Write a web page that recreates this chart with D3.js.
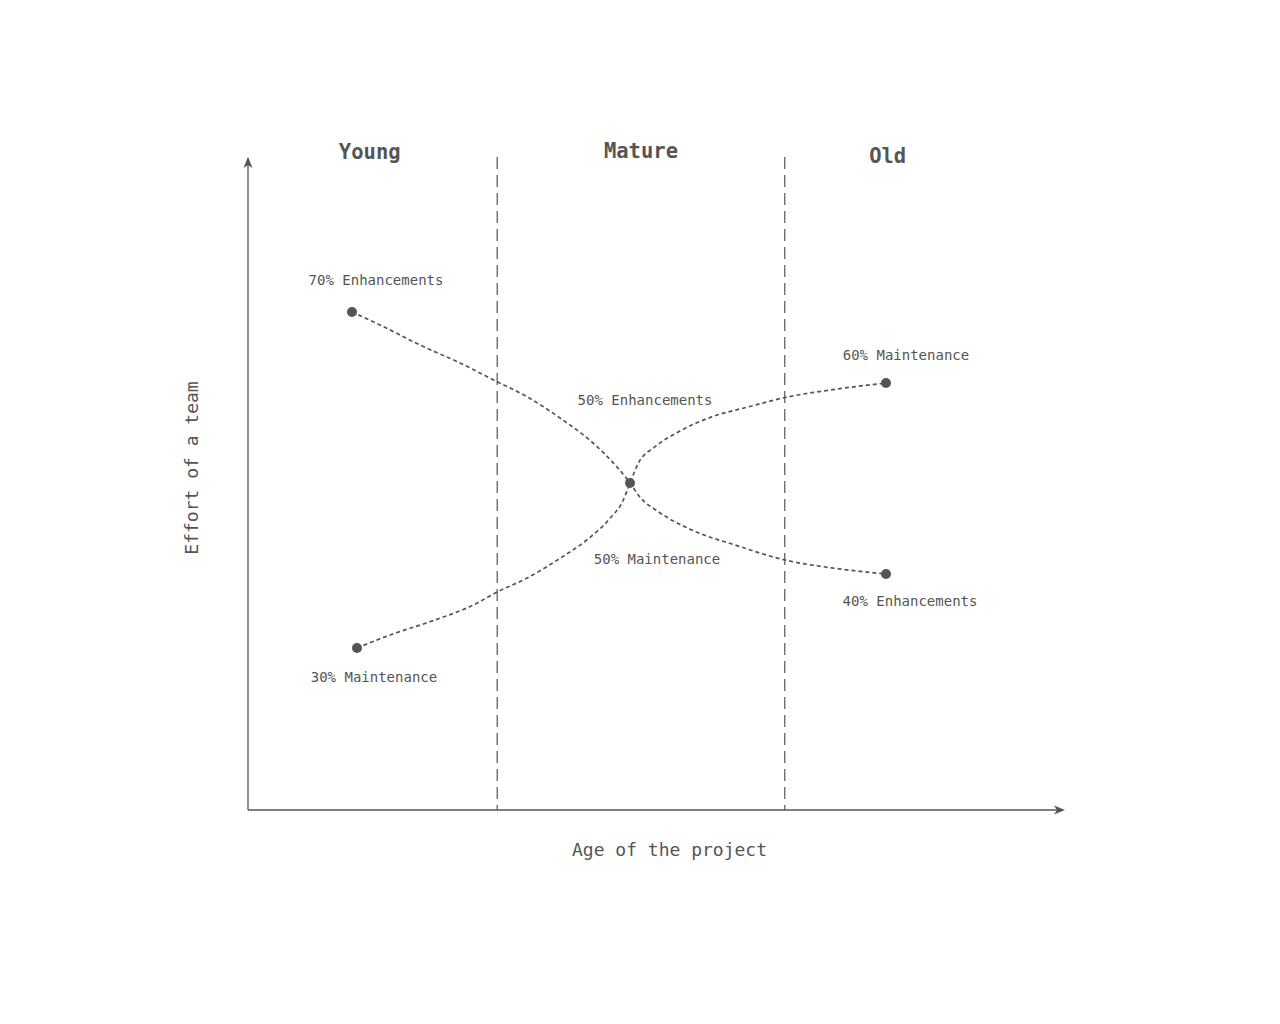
<!DOCTYPE html>
<html>
<head>
<meta charset="utf-8">
<script src="https://cdn.jsdelivr.net/npm/d3@7"></script>
<style>
  html, body { margin: 0; padding: 0; background: #fff; }
  svg { display: block; }
  text { font-family: "DejaVu Sans Mono", "Liberation Mono", monospace; fill: #555; }
</style>
</head>
<body>
<svg id="chart" width="1280" height="1024"></svg>
<script>
// ---- Data (age of project 0-100, effort 0-100) ----
const phases = ["Young", "Mature", "Old"];
const phaseLabelAge = [14.9, 48.1, 78.3];
const phaseBounds = [30.5, 65.7];

const enhAge    = [12.73, 16.16, 21.05, 25.95, 30.48, 34.15, 38.19, 42.23, 45.13, 46.76, 48.0, 50.22, 54.31, 59.61, 65.73, 71.85, 78.09];
const enhEffort = [76.62, 74.62, 71.54, 68.77, 65.89, 63.58, 60.31, 56.46, 52.82, 50.31, 48.10, 45.90, 43.08, 40.77, 38.46, 37.18, 36.31];

const mntAge    = [13.34, 17.38, 22.28, 27.58, 30.51, 34.11, 38.19, 41.46, 44.31, 45.94, 46.76, 47.77, 49.82, 52.67, 56.76, 61.24, 65.73, 71.85, 78.09];
const mntEffort = [24.92, 26.92, 28.97, 31.54, 33.55, 35.65, 38.72, 41.54, 44.88, 47.69, 50.31, 53.34, 55.89, 58.17, 60.48, 62.02, 63.46, 64.72, 65.69];

const markerAge    = [12.73, 13.34, 46.76, 78.09, 78.09];
const markerEffort = [76.62, 24.92, 50.31, 65.69, 36.31];
const markerLabels = ["70% Enhancements", "30% Maintenance", "50% Enhancements", "60% Maintenance", "40% Enhancements"];
const centerSecondLabel = "50% Maintenance";

const xTitle = "Age of the project";
const yTitle = "Effort of a team";

// ---- Layout ----
const svg = d3.select("#chart");
const ink = "#555555";
const x = d3.scaleLinear().domain([0, 100]).range([248, 1065]);
const y = d3.scaleLinear().domain([0, 100]).range([810, 160]);

// phase dividers
svg.selectAll("line.divider").data(phaseBounds).join("line")
  .attr("class", "divider")
  .attr("x1", d => x(d)).attr("x2", d => x(d))
  .attr("y1", y(100) - 3).attr("y2", y(0))
  .attr("stroke", ink).attr("stroke-width", 1.2)
  .attr("stroke-dasharray", "12,6");

// phase labels
const phaseBaselineShift = [0, -1, 4];
svg.selectAll("text.phase").data(phases).join("text")
  .attr("class", "phase")
  .attr("x", (d, i) => x(phaseLabelAge[i]))
  .attr("y", (d, i) => y(100) - 1 + phaseBaselineShift[i])
  .attr("text-anchor", "middle")
  .attr("font-size", 20.5)
  .attr("font-weight", "bold")
  .text(d => d);

// axes
const axisG = svg.append("g");
axisG.append("line")
  .attr("x1", x(0)).attr("x2", x(0))
  .attr("y1", y(0)).attr("y2", y(100) - 2)
  .attr("stroke", ink).attr("stroke-width", 1.3);
axisG.append("line")
  .attr("x1", x(0)).attr("x2", x(100) - 2)
  .attr("y1", y(0)).attr("y2", y(0))
  .attr("stroke", ink).attr("stroke-width", 1.3);
const ty = y(100) - 3;
axisG.append("path")
  .attr("d", `M${x(0)},${ty} L${x(0) + 4.5},${ty + 11} L${x(0)},${ty + 8} L${x(0) - 4.5},${ty + 11} Z`)
  .attr("fill", ink);
const tx = x(100);
axisG.append("path")
  .attr("d", `M${tx},${y(0)} L${tx - 11},${y(0) - 4.5} L${tx - 8},${y(0)} L${tx - 11},${y(0) + 4.5} Z`)
  .attr("fill", ink);

// axis titles
svg.append("text")
  .attr("x", (x(0) + x(100)) / 2 + 13)
  .attr("y", y(0) + 46)
  .attr("text-anchor", "middle")
  .attr("font-size", 18)
  .text(xTitle);
svg.append("text")
  .attr("transform", `translate(${x(0) - 50},${(y(0) + y(100)) / 2 - 17}) rotate(-90)`)
  .attr("text-anchor", "middle")
  .attr("font-size", 18)
  .text(yTitle);

// curves
const line = d3.line().x(d => x(d[0])).y(d => y(d[1])).curve(d3.curveMonotoneX);
const enhPts = enhAge.map((a, i) => [a, enhEffort[i]]);
const mntPts = mntAge.map((a, i) => [a, mntEffort[i]]);
svg.selectAll("path.curve").data([enhPts, mntPts]).join("path")
  .attr("class", "curve")
  .attr("d", line)
  .attr("fill", "none")
  .attr("stroke", ink)
  .attr("stroke-width", 1.7)
  .attr("stroke-dasharray", "4,3");

// markers
const markers = markerAge.map((a, i) => ({ a, e: markerEffort[i], label: markerLabels[i] }));
svg.selectAll("circle.marker").data(markers).join("circle")
  .attr("class", "marker")
  .attr("cx", d => x(d.a)).attr("cy", d => y(d.e))
  .attr("r", 5)
  .attr("fill", ink);

// marker labels (offsets in px from the marker)
const labelData = [
  { m: markers[0], off: [24, -27] },
  { m: markers[1], off: [17, 34] },
  { m: markers[2], off: [15, -78] },
  { m: markers[2], off: [27, 81], text: centerSecondLabel },
  { m: markers[3], off: [20, -23] },
  { m: markers[4], off: [24, 32] }
];
svg.selectAll("text.mlabel").data(labelData).join("text")
  .attr("class", "mlabel")
  .attr("x", d => x(d.m.a) + d.off[0])
  .attr("y", d => y(d.m.e) + d.off[1])
  .attr("text-anchor", "middle")
  .attr("font-size", 14)
  .text(d => d.text || d.m.label);
</script>
</body>
</html>
